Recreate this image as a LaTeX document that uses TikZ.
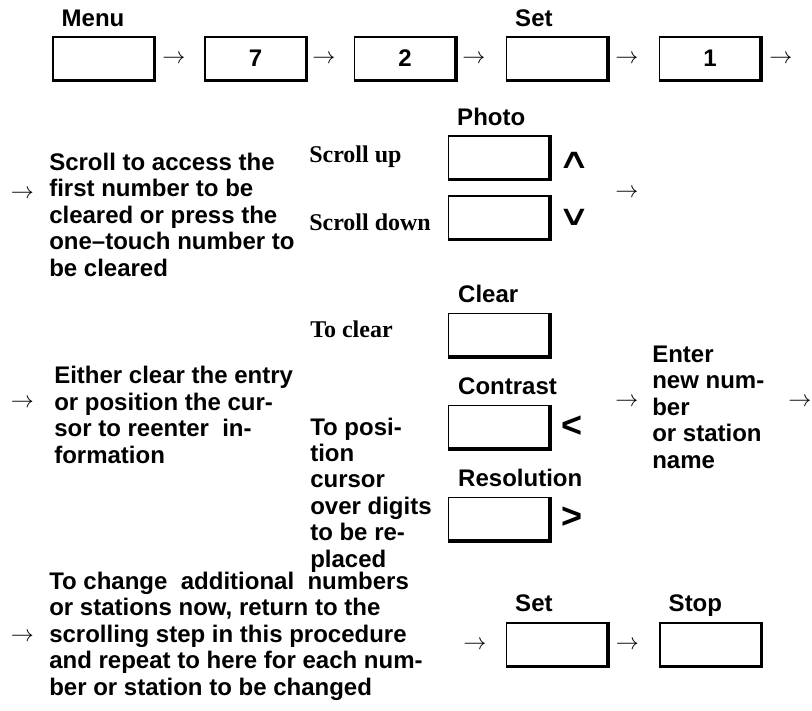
\documentclass[tikz,border=0pt]{standalone}
\usepackage{fontspec}
\setmainfont{Liberation Sans}
\newfontfamily\timesbf{Liberation Serif}
\newfontfamily\symfont{DejaVu Sans}
\begin{document}
\begin{tikzpicture}[
    x=0.75pt,y=-0.75pt,
    key/.style={draw,line width=0.8pt,minimum width=75.75pt,minimum height=32.25pt,inner sep=0pt,font=\fontsize{18}{20}\selectfont\bfseries},
    keyedge/.style={line width=2.4pt},
    keylbl/.style={anchor=base west,inner sep=0pt,font=\fontsize{18}{20}\selectfont\bfseries},
    txt/.style={anchor=base west,align=left,inner sep=0pt,font=\fontsize{18}{19.8}\selectfont\bfseries},
    srf/.style={anchor=base west,inner sep=0pt,font=\fontsize{18}{20}\selectfont\timesbf\bfseries},
    arr/.style={inner sep=0pt,font=\fontsize{17}{20}\selectfont},
    sym/.style={inner sep=0pt,font=\fontsize{27}{30}\selectfont\bfseries},
    wedge/.style={inner sep=0pt,font=\fontsize{21}{22}\selectfont\symfont}
]
\useasboundingbox (0,0) rectangle (812,710);

% first row: Menu 7 2 Set 1
\node[key] (menu) at (103.5,58.5) {};
\node[key] (seven) at (255.5,58.5) {7};
\node[key] (two) at (405,58.5) {2};
\node[key] (set) at (557,58.5) {};
\node[key] (one) at (710,58.5) {1};
\node[keylbl] (menulbl) at ([shift={(9,-10)}]menu.north west) {Menu};
\node[keylbl] (setlbl) at ([shift={(9,-10)}]set.north west) {Set};
\foreach \x/\n in {174/r1,324/r2,474/r3,627/r4,781/r5}
    \node[arr] (\n) at (\x,59) {$\rightarrow$};

% scrolling (base of a text block = its last line)
\node[arr] (s0) at (22.5,194) {$\rightarrow$};
\node[txt] (scrolltxt) at (49,276) {Scroll to access the\\first number to be\\cleared or press the\\one--touch number to\\be cleared};
\node[srf] (uplbl) at (309,162) {Scroll up};
\node[srf] (dnlbl) at (309,230) {Scroll down};
\node[key] (photo) at (499,157.5) {};
\node[key] (photodn) at (499,217.5) {};
\node[keylbl] (photolbl) at ([shift={(9,-10)}]photo.north west) {Photo};
\node[wedge] (up) at (574,160) {\scalebox{1.6}[1.0]{∧}};
\node[wedge] (dn) at (574,217) {\scalebox{1.6}[1.0]{∨}};
\node[arr] (s1) at (627,193) {$\rightarrow$};

% clear or position the cursor
\node[arr] (c0) at (22.5,403) {$\rightarrow$};
\node[txt] (eithertxt) at (54,463) {Either clear the entry\\or position the cur-\\sor to reenter\ \ in-\\formation};
\node[srf] (clrlbl) at (310,337) {To clear};
\node[txt] (postxt) at (310,567) {To posi-\\tion\\cursor\\over digits\\to be re-\\placed};
\node[key] (clear) at (499,335) {};
\node[key] (contrast) at (499,427) {};
\node[key] (resol) at (499,519) {};
\node[keylbl] (clearlbl) at ([shift={(10,-10)}]clear.north west) {Clear};
\node[keylbl] (contrastlbl) at ([shift={(10,-10)}]contrast.north west) {Contrast};
\node[keylbl] (resollbl) at ([shift={(10,-10)}]resol.north west) {Resolution};
\node[sym] (lt) at (572,427) {<};
\node[sym] (gt) at (572,518) {>};
\node[arr] (c1) at (627,402) {$\rightarrow$};
\node[txt] (entertxt) at (652,468) {Enter\\new num-\\ber\\or station\\name};
\node[arr] (c2) at (800,402) {$\rightarrow$};

% repeat, then Set and Stop
\node[arr] (e0) at (22.5,637) {$\rightarrow$};
\node[txt] (againtxt) at (49,695) {To change\ \ additional\ \ numbers\\or stations now, return to the\\scrolling step in this procedure\\and repeat to here for each num-\\ber or station to be changed};
\node[key] (set2) at (557,644.5) {};
\node[key] (stop) at (710.5,644.5) {};
\node[keylbl] (set2lbl) at ([shift={(9,-11)}]set2.north west) {Set};
\node[keylbl] (stoplbl) at ([shift={(9,-11)}]stop.north west) {Stop};
\node[arr] (e1) at (475,645) {$\rightarrow$};
\node[arr] (e2) at (627.5,645) {$\rightarrow$};

% heavy right and bottom edges of the keys
\foreach \k in {menu,seven,two,set,one,photo,photodn,clear,contrast,resol,set2,stop}
    \draw[keyedge] (\k.south west) -- (\k.south east) -- (\k.north east);

\end{tikzpicture}
\end{document}
